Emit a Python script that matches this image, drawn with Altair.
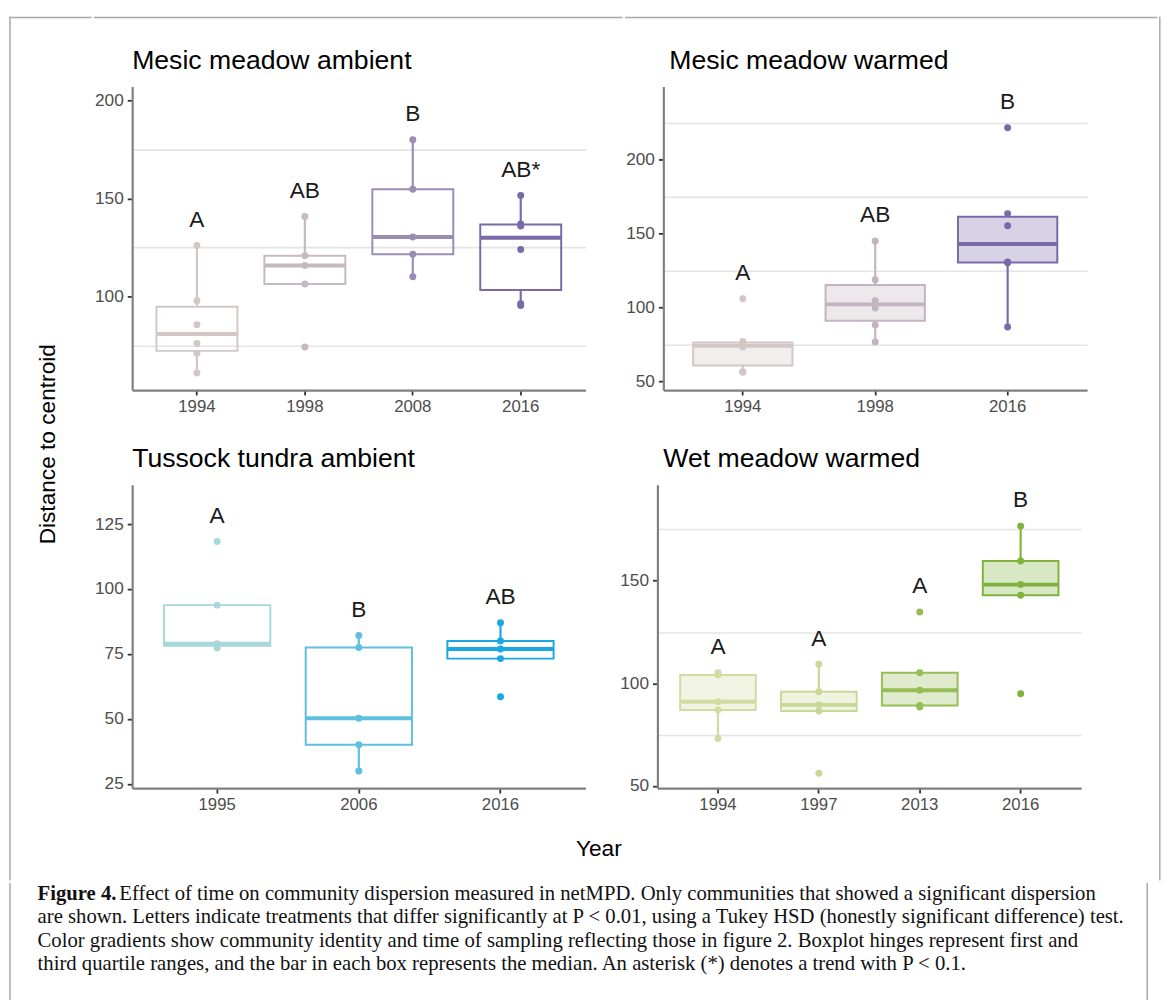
import altair as alt
import pandas as pd

FONT = "Liberation Sans"
SERIF = "Liberation Serif"

# ---------------- data ----------------
p1_title = "Mesic meadow ambient"
p1_years = ["1994", "1998", "2008", "2016"]
p1_vals = [
    [126.1, 98.0, 85.8, 76.2, 71.2, 61.2],
    [140.8, 120.9, 115.9, 106.5, 74.4],
    [179.9, 154.7, 130.4, 121.6, 110.2],
    [151.5, 137.0, 136.0, 124.1, 96.5, 95.5],
]
p1_letters = ["A", "AB", "B", "AB*"]
p1_colors = ["#d3c6c6", "#c6b9c4", "#9a8db4", "#7a6aa8"]
p1_ticks = [100, 150, 200]
p1_minor = [75, 125, 175]
p1_domain = [52.5, 207.0]

p2_title = "Mesic meadow warmed"
p2_years = ["1994", "1998", "2016"]
p2_vals = [
    [105.8, 76.8, 74.6, 73.2, 56.4, 56.0],
    [144.9, 118.6, 104.5, 99.5, 88.1, 76.6],
    [221.5, 163.4, 155.2, 130.6, 130.2, 86.6],
]
p2_letters = ["A", "AB", "B"]
p2_colors = ["#d3c6c6", "#c2b4c0", "#7a6aa8"]
p2_ticks = [50, 100, 150, 200]
p2_minor = [75, 125, 175, 225]
p2_domain = [44.0, 249.4]

p3_title = "Tussock tundra ambient"
p3_years = ["1995", "2006", "2016"]
p3_vals = [
    [118.3, 93.8, 78.9, 78.2, 77.3],
    [82.1, 77.5, 50.2, 40.0, 29.9],
    [87.0, 80.0, 76.9, 73.2, 58.5],
]
p3_letters = ["A", "B", "AB"]
p3_colors = ["#a8d8da", "#5ec0e0", "#1aa8e4"]
p3_ticks = [25, 50, 75, 100, 125]
p3_minor = [37.5, 62.5, 87.5, 112.5, 137.5]
p3_domain = [23.3, 140.2]

p4_title = "Wet meadow warmed"
p4_years = ["1994", "1997", "2013", "2016"]
p4_vals = [
    [105.2, 104.0, 91.0, 87.0, 73.1],
    [109.3, 95.9, 89.5, 86.5, 56.2],
    [134.8, 105.1, 96.6, 89.2, 88.4],
    [176.6, 159.6, 148.1, 142.9, 94.9],
]
p4_letters = ["A", "A", "A", "B"]
p4_colors = ["#d2dca2", "#cad897", "#96bd56", "#80b23d"]
p4_ticks = [50, 100, 150]
p4_minor = [75, 125, 175]
p4_domain = [48.9, 196.8]

y_title = "Distance to centroid"
x_title = "Year"
caption_bold = "Figure 4."
caption_first = "Effect of time on community dispersion measured in netMPD. Only communities that showed a significant dispersion"
caption_lines = [
    "are shown. Letters indicate treatments that differ significantly at P < 0.01, using a Tukey HSD (honestly significant difference) test.",
    "Color gradients show community identity and time of sampling reflecting those in figure 2. Boxplot hinges represent first and",
    "third quartile ranges, and the bar in each box represents the median. An asterisk (*) denotes a trend with P < 0.1.",
]

# ---------------- layout / style ----------------
H = 308
W_LEFT = 460
W_RIGHT = 430
DODGE_PX = 7.0
DX = 4.2
IND = dict(color="independent", fill="independent", stroke="independent")
FRAME_COLOR = "#a8a8a8"
FRAME_W = 1.5
F_TOP = -70          # frame top, relative to the first-row plot origin
F_BOT = 805          # frame bottom of the upper block, relative to same origin


def dodge_sides(vals, ppu):
    """pair up points that would overlap (beeswarm-like side-by-side)"""
    order = sorted(range(len(vals)), key=lambda i: vals[i])
    side = [0] * len(vals)
    used = set()
    for k in range(len(order) - 1):
        a, b = order[k], order[k + 1]
        if a in used or b in used:
            continue
        if (vals[b] - vals[a]) * ppu < DODGE_PX:
            side[a], side[b] = -1, 1
            used.update([a, b])
    return side


def frame_rule(x, y, x2=None, y2=None):
    enc = dict(x=alt.value(x), y=alt.value(y))
    if x2 is not None:
        enc["x2"] = alt.value(x2)
    if y2 is not None:
        enc["y2"] = alt.value(y2)
    return alt.Chart(pd.DataFrame({"f": [0]})).mark_rule(
        color=FRAME_COLOR, strokeWidth=FRAME_W, strokeCap="square").encode(**enc)


def panel(title, years, vals, letters, colors, ticks, minor, domain, width, tinted,
          title_x=0, top_line=None):
    ppu = H / (domain[1] - domain[0])
    rows = []
    for yr, vs, let in zip(years, vals, letters):
        sides = dodge_sides(vs, ppu)
        for v, s in zip(vs, sides):
            rows.append({"year": yr, "value": v, "side": s, "letter": let})
    df = pd.DataFrame(rows)
    n = len(years)
    band_px = width / (n + 0.2) * 0.75

    all_vals = sorted(ticks + minor)
    major_js = "[" + ",".join(str(t) for t in ticks) + "]"
    is_major = f"indexof({major_js}, datum.value) >= 0"

    x = alt.X(
        "year:N",
        sort=years,
        title=None,
        scale=alt.Scale(domain=years, paddingInner=0.25, paddingOuter=0.225),
        axis=alt.Axis(
            labelAngle=0, labelFont=FONT, labelFontSize=17, labelColor="#4d4d4d",
            labelPadding=4, tickColor="#333333", tickWidth=1.8, tickSize=5,
            domainColor="#7f7f7f", domainWidth=2.2, grid=False,
        ),
    )
    yscale = alt.Scale(domain=domain, nice=False, zero=False)
    yaxis = alt.Axis(
        values=all_vals, labelExpr=f"{is_major} ? datum.label : ''",
        labelFont=FONT, labelFontSize=17.5, labelColor="#4d4d4d", labelPadding=4,
        tickColor="#333333", tickWidth=1.8, tickSize=5,
        tickOpacity={"condition": {"test": is_major, "value": 1}, "value": 0},
        domainColor="#7f7f7f", domainWidth=2.2,
        grid=True, gridColor="#e4e4e4", gridWidth=1.6,
        gridOpacity={"condition": {"test": is_major, "value": 0}, "value": 1},
        title=None,
    )
    cscale = alt.Scale(domain=years, range=colors)
    col = alt.Color("year:N", scale=cscale, legend=None)
    strk = alt.Stroke("year:N", scale=cscale, legend=None)

    base = alt.Chart(df)
    stats = (
        base.transform_joinaggregate(
            q1="q1(value)", q3="q3(value)", med="median(value)", vmax="max(value)",
            groupby=["year"],
        )
        .transform_calculate(
            lo="datum.q1 - 1.5 * (datum.q3 - datum.q1)",
            hi="datum.q3 + 1.5 * (datum.q3 - datum.q1)",
        )
        .transform_filter("datum.value >= datum.lo && datum.value <= datum.hi")
        .transform_aggregate(
            wmin="min(value)", wmax="max(value)", q1="max(q1)", q3="max(q3)",
            med="max(med)", vmax="max(vmax)", groupby=["year", "letter"],
        )
    )

    if tinted:
        box = stats.mark_bar(fillOpacity=0.3, strokeWidth=2).encode(
            x=x, y=alt.Y("q1:Q", scale=yscale, axis=yaxis), y2="q3:Q",
            fill=alt.Fill("year:N", scale=cscale, legend=None), stroke=strk)
    else:
        box = stats.mark_bar(fill="white", fillOpacity=0, strokeWidth=2).encode(
            x=x, y=alt.Y("q1:Q", scale=yscale, axis=yaxis), y2="q3:Q", stroke=strk)

    wlo = stats.mark_rule(strokeWidth=2.2).encode(
        x=x, y=alt.Y("wmin:Q", scale=yscale), y2="q1:Q", color=col)
    whi = stats.mark_rule(strokeWidth=2.2).encode(
        x=x, y=alt.Y("q3:Q", scale=yscale), y2="wmax:Q", color=col)
    med = stats.mark_tick(orient="horizontal", size=band_px, thickness=4, opacity=1).encode(
        x=x, y=alt.Y("med:Q", scale=yscale), color=col)

    pts = []
    for s in (-1, 0, 1):
        pts.append(
            base.transform_filter(f"datum.side == {s}")
            .mark_circle(size=50, opacity=1, dx=s * DX)
            .encode(x=x, y=alt.Y("value:Q", scale=yscale), color=col)
        )
    txt = stats.mark_text(dy=-26, fontSize=23, font=FONT, color="#1a1a1a", baseline="middle").encode(
        x=x, y=alt.Y("vmax:Q", scale=yscale), text="letter:N")

    ttl = alt.Chart(pd.DataFrame({"t": [title]})).mark_text(
        font=FONT, fontSize=27, color="black", align="left", baseline="alphabetic"
    ).encode(x=alt.value(title_x), y=alt.value(-18), text="t:N")

    layers = [box, wlo, whi, med, *pts, txt, ttl]
    if top_line is not None:
        layers.append(frame_rule(top_line[0], F_TOP, x2=top_line[1]))

    return alt.layer(*layers).properties(width=width, height=H)


c1 = panel(p1_title, p1_years, p1_vals, p1_letters, p1_colors, p1_ticks, p1_minor, p1_domain,
           W_LEFT, False, title_x=0, top_line=(-38, 497))
c2 = panel(p2_title, p2_years, p2_vals, p2_letters, p2_colors, p2_ticks, p2_minor, p2_domain,
           W_RIGHT, True, title_x=6, top_line=(-38, 500.5))
c3 = panel(p3_title, p3_years, p3_vals, p3_letters, p3_colors, p3_ticks, p3_minor, p3_domain,
           W_LEFT, False, title_x=0)
c4 = panel(p4_title, p4_years, p4_vals, p4_letters, p4_colors, p4_ticks, p4_minor, p4_domain,
           W_RIGHT, True, title_x=6)

row1 = alt.hconcat(c1, c2, spacing=0).resolve_scale(**IND)
row2 = alt.hconcat(c3, c4, spacing=34).resolve_scale(**IND)
rows = alt.vconcat(row1, row2, spacing=31).resolve_scale(**IND)

ytitle_text = alt.Chart(pd.DataFrame({"t": [y_title]})).mark_text(
    angle=270, fontSize=23, font=FONT, color="black", baseline="middle", align="center"
).encode(text="t:N", x=alt.value(40), y=alt.value(363))
ytitle = alt.layer(
    ytitle_text,
    frame_rule(1, F_TOP, y2=F_BOT),
    frame_rule(1, F_TOP, x2=83),
).properties(width=83, height=700)

xtitle = alt.Chart(pd.DataFrame({"t": [x_title]})).mark_text(
    fontSize=23, font=FONT, color="black", baseline="middle", align="center"
).encode(text="t:N", x=alt.value(473.5), y=alt.value(16)).properties(width=900, height=30)

grid = alt.vconcat(rows, xtitle, spacing=21).resolve_scale(**IND)
right_frame = frame_rule(0.8, F_TOP, y2=F_BOT).properties(width=1, height=10)
top = alt.hconcat(ytitle, grid, right_frame, spacing=0).resolve_scale(**IND)

cap_df = pd.DataFrame({"i": list(range(1, len(caption_lines) + 1)), "t": caption_lines})
cap_y = alt.Y("i:Q", scale=alt.Scale(domain=[0, 3], range=[10, 82]), axis=None)
cap_rest = alt.Chart(cap_df).mark_text(
    font=SERIF, fontSize=21, align="left", baseline="middle", color="#111111"
).encode(x=alt.value(29), y=cap_y, text="t:N")
cap_first = alt.Chart(pd.DataFrame({"i": [0], "t": [caption_first]})).mark_text(
    font=SERIF, fontSize=21, align="left", baseline="middle", color="#111111", dx=83
).encode(x=alt.value(29), y=cap_y, text="t:N")
cap_bold = alt.Chart(pd.DataFrame({"i": [0], "t": [caption_bold]})).mark_text(
    font=SERIF, fontSize=21, fontWeight="bold", align="left", baseline="middle", color="#111111"
).encode(x=alt.value(29), y=cap_y, text="t:N")
caption = alt.layer(
    cap_rest, cap_first, cap_bold,
    frame_rule(1, 0, y2=160),
    frame_rule(1155, 0, y2=160),
).properties(width=1150, height=100)

chart = alt.vconcat(top, caption, spacing=0).resolve_scale(**IND).properties(
    padding={"left": 0, "top": 0, "right": 0, "bottom": 0}
).configure(font=FONT).configure_view(stroke=None)

chart.save("out.html", embed_options={"renderer": "svg", "actions": False})
